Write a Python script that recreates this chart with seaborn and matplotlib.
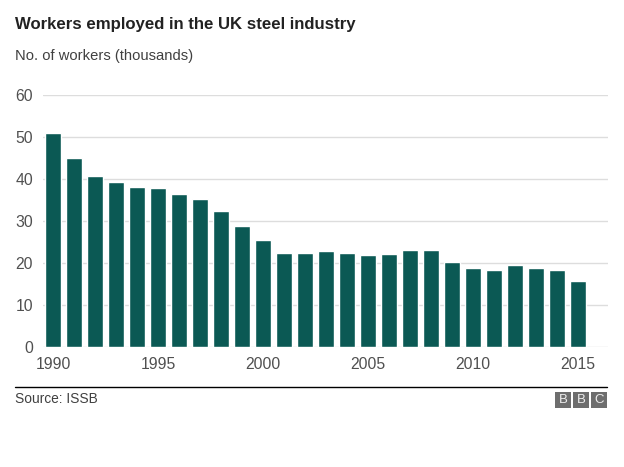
import matplotlib
matplotlib.use("Agg")
import matplotlib.pyplot as plt
import seaborn as sns
import pandas as pd
from matplotlib.lines import Line2D
from matplotlib.patches import Rectangle

years = [str(y) for y in range(1990, 2016)]
workers = [50.9, 45.1, 40.8, 39.2, 38.1, 37.8, 36.5, 35.2, 32.5, 28.9,
           25.4, 22.3, 22.5, 22.8, 22.3, 21.9, 22.1, 23.0, 23.0, 20.3,
           18.8, 18.4, 19.5, 18.8, 18.3, 15.7]
tick_years = ["1990", "1995", "2000", "2005", "2010", "2015"]
y_ticks = [0, 10, 20, 30, 40, 50, 60]

title = "Workers employed in the UK steel industry"
subtitle = "No. of workers (thousands)"
source = "Source: ISSB"

df = pd.DataFrame({"year": years, "workers": workers})

sns.set_theme(style="white")
plt.rcParams["font.family"] = ["Liberation Sans", "DejaVu Sans"]

W, H = 624, 467
fig = plt.figure(figsize=(W / 100, H / 100), dpi=100)
ax = fig.add_axes([42.7 / W, 120 / H, (608 - 42.7) / W, (347 - 95) / H])

sns.barplot(data=df, x="year", y="workers", color="#0b5954", saturation=1,
            width=0.77, ax=ax, zorder=3)

ax.set_ylim(0, 60)
ax.set_xlim(-0.49, 26.43)
ax.set_yticks(y_ticks)
ax.set_yticklabels([str(v) for v in y_ticks])
ax.set_xticks([years.index(t) for t in tick_years])
ax.set_xticklabels(tick_years)
ax.set_xlabel("")
ax.set_ylabel("")
ax.grid(axis="y", color="#dddddd", linewidth=1, zorder=0)
ax.grid(axis="x", visible=False)
for s in ax.spines.values():
    s.set_visible(False)
ax.tick_params(axis="both", length=0, labelsize=11.3, labelcolor="#505050")
ax.tick_params(axis="y", pad=7)
ax.tick_params(axis="x", pad=7)

fig.text(15 / W, 1 - 29 / H, title, fontsize=12.1, fontweight="bold",
         color="#222222", va="baseline", ha="left")
fig.text(15 / W, 1 - 60 / H, subtitle, fontsize=10.6, color="#404040",
         va="baseline", ha="left")
fig.text(15 / W, 1 - 403 / H, source, fontsize=9.9, color="#404040",
         va="baseline", ha="left")

fig.add_artist(Line2D([15 / W, 607 / W], [1 - 387 / H, 1 - 387 / H],
                      color="#000000", linewidth=1.0, transform=fig.transFigure))

for i, letter in enumerate(["B", "B", "C"]):
    x0 = 555 + i * 18
    fig.add_artist(Rectangle((x0 / W, 1 - 408 / H), 16 / W, 16 / H,
                             facecolor="#6e6e6e", edgecolor="none",
                             transform=fig.transFigure))
    fig.text((x0 + 8) / W, 1 - 400 / H, letter, fontsize=9.5, color="#eeeeee",
             ha="center", va="center")

fig.savefig("out.png", dpi=100, facecolor="white")
